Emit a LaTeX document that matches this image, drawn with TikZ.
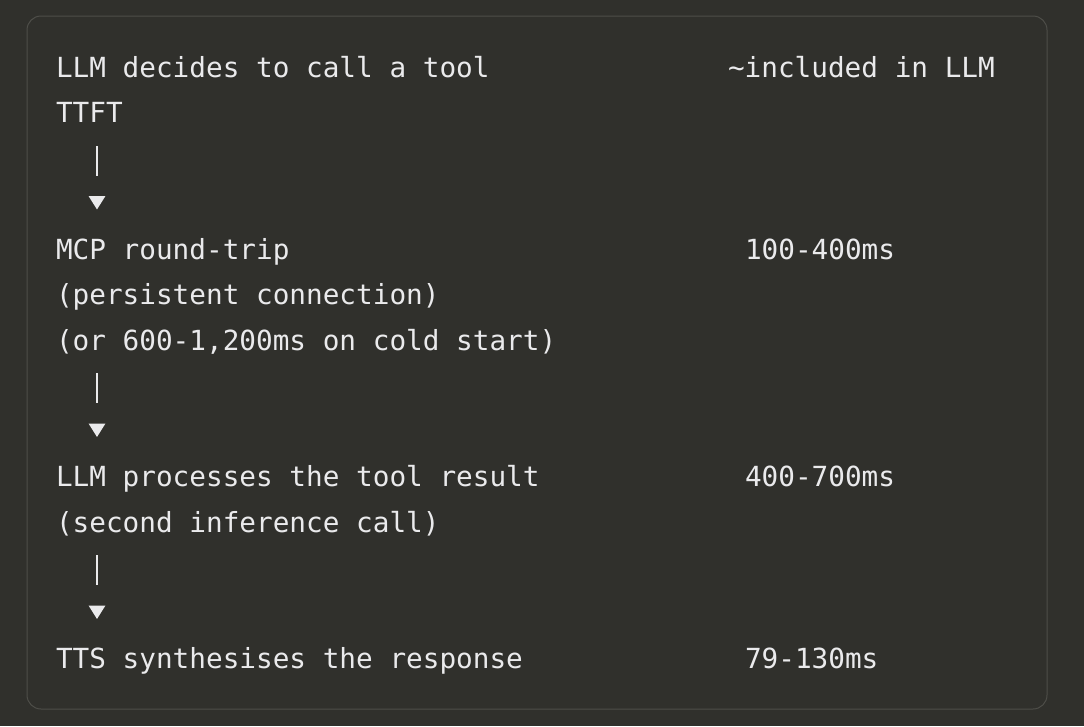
\documentclass[tikz,border=0pt]{standalone}
\usepackage{fontspec}
\newfontfamily\codefont{DejaVu Sans Mono}
\usetikzlibrary{arrows.meta}
\definecolor{bg}{RGB}{48,48,44}
\definecolor{frame}{RGB}{78,78,73}
\definecolor{ink}{RGB}{234,234,236}
\tikzset{
  txt/.style={anchor=base west, inner sep=0pt, outer sep=0pt, text=ink,
    font=\codefont\fontsize{27.7pt}{30pt}\selectfont},
  flow/.style={draw=ink, line width=1.7pt, dash pattern=on 30pt off 60pt,
    -{Triangle[length=13.5pt,width=16.5pt]}},
}
\begin{document}
\begin{tikzpicture}[x=1pt,y=-1pt]
\useasboundingbox[fill=bg] (0,0) rectangle (1084,726);
\draw[frame, line width=1pt, rounded corners=14pt] (27,16) rectangle (1047,709);
% row baselines: 77 + 45.5 r ; column width 16.68
\node[txt] (t0)  at (56,77)    {LLM decides to call a tool};
\node[txt] (r0)  at (728,77)   {\textasciitilde included in LLM};
\node[txt] (t1)  at (56,122.5) {TTFT};
\node[txt] (t4)  at (56,259)   {MCP round-trip};
\node[txt] (r4)  at (745,259)  {100-400ms};
\node[txt] (t5)  at (56,304.5) {(persistent connection)};
\node[txt] (t6)  at (56,350)   {(or 600-1,200ms on cold start)};
\node[txt] (t9)  at (56,486.5) {LLM processes the tool result};
\node[txt] (r9)  at (745,486.5){400-700ms};
\node[txt] (t10) at (56,532)   {(second inference call)};
\node[txt] (t13) at (56,668.5) {TTS synthesises the response};
\node[txt] (r13) at (745,668.5){79-130ms};
% connectors
\coordinate (a1s) at (97,146);   \coordinate (a1e) at (97,209.5);
\coordinate (a2s) at (97,373);   \coordinate (a2e) at (97,437);
\coordinate (a3s) at (97,555);   \coordinate (a3e) at (97,619);
\draw[flow] (a1s) -- (a1e);
\draw[flow] (a2s) -- (a2e);
\draw[flow] (a3s) -- (a3e);
\end{tikzpicture}
\end{document}
